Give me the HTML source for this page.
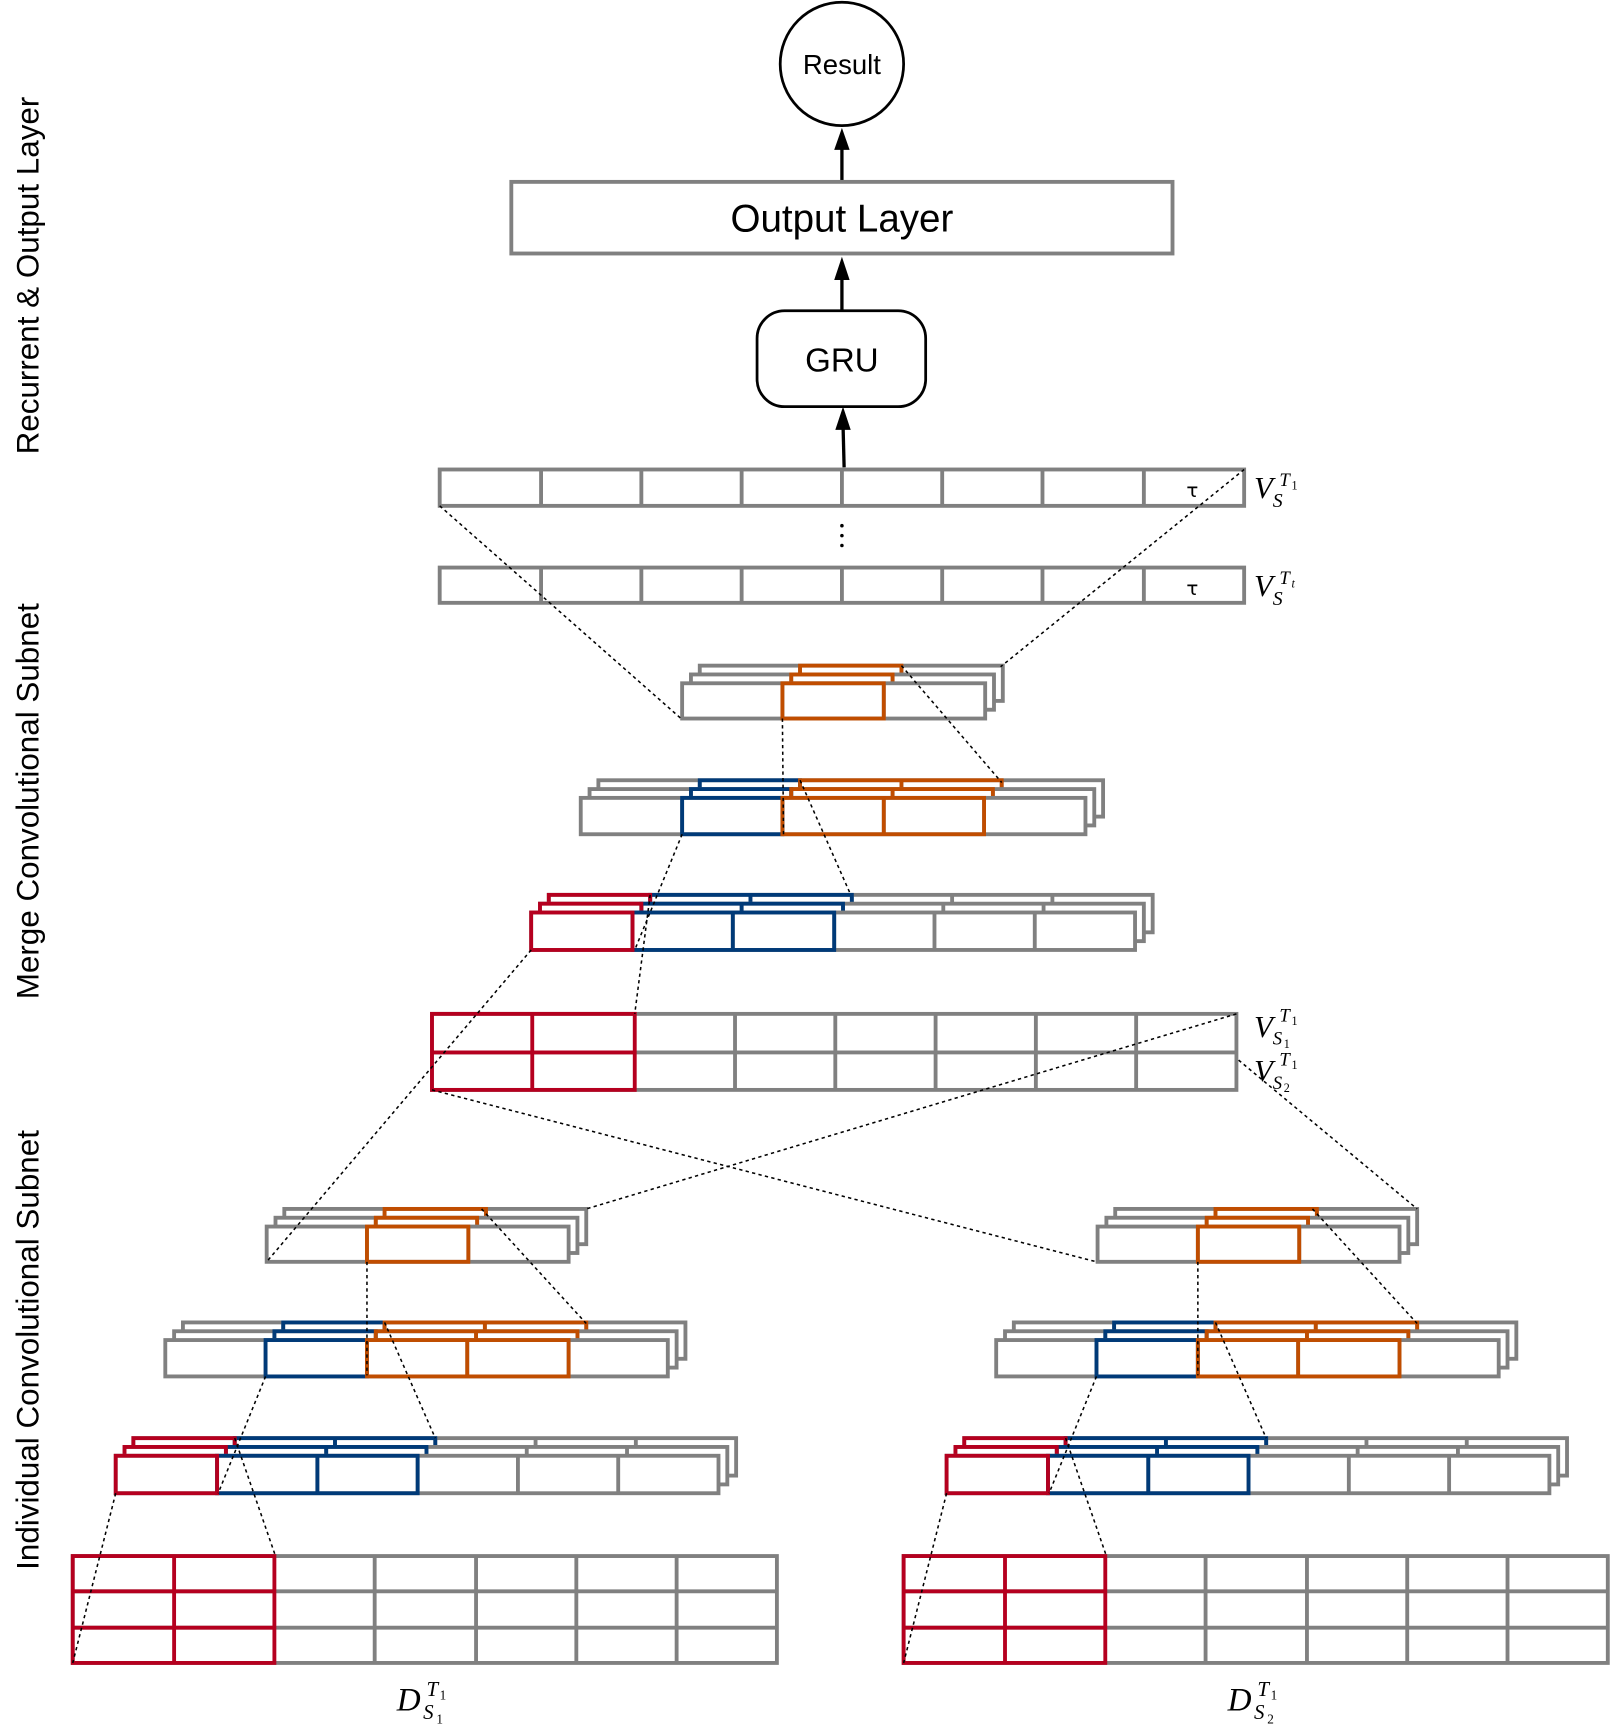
<!DOCTYPE html>
<html><head><meta charset="utf-8"><style>html,body{margin:0;padding:0;background:#fff}svg{display:block}</style></head>
<body>
<svg width="1610" height="1728" viewBox="0 0 1461 1568" xmlns="http://www.w3.org/2000/svg" font-family="Liberation Sans, sans-serif">
<defs>
<g id="m3"><rect x="619" y="620" width="275" height="32" fill="#fff" stroke="#808080" stroke-width="3.5"/><line x1="710" y1="620" x2="710" y2="652" stroke="#808080" stroke-width="3.5"/><line x1="802" y1="620" x2="802" y2="652" stroke="#808080" stroke-width="3.5"/><rect x="710" y="620" width="92" height="32" fill="none" stroke="#c04d00" stroke-width="3.5"/></g>
<g id="m2"><rect x="527" y="724" width="458" height="33" fill="#fff" stroke="#808080" stroke-width="3.5"/><g stroke="#808080" stroke-width="3.5"><line x1="619" y1="724" x2="619" y2="757"/><line x1="710" y1="724" x2="710" y2="757"/><line x1="802" y1="724" x2="802" y2="757"/><line x1="893" y1="724" x2="893" y2="757"/></g><rect x="619" y="724" width="91" height="33" fill="none" stroke="#003a78" stroke-width="3.5"/><rect x="710" y="724" width="183" height="33" fill="none" stroke="#c04d00" stroke-width="3.5"/><line x1="802" y1="724" x2="802" y2="757" stroke="#c04d00" stroke-width="3.5"/></g>
<g id="m1"><rect x="482" y="828" width="548" height="34" fill="#fff" stroke="#808080" stroke-width="3.5"/><g stroke="#808080" stroke-width="3.5"><line x1="574" y1="828" x2="574" y2="862"/><line x1="665" y1="828" x2="665" y2="862"/><line x1="757" y1="828" x2="757" y2="862"/><line x1="848" y1="828" x2="848" y2="862"/><line x1="939" y1="828" x2="939" y2="862"/></g><rect x="574" y="828" width="183" height="34" fill="none" stroke="#003a78" stroke-width="3.5"/><line x1="665" y1="828" x2="665" y2="862" stroke="#003a78" stroke-width="3.5"/><rect x="482" y="828" width="92" height="34" fill="none" stroke="#b5001f" stroke-width="3.5"/></g>
<g id="i3"><rect x="242" y="1113" width="274" height="32" fill="#fff" stroke="#808080" stroke-width="3.5"/><g stroke="#808080" stroke-width="3.5"><line x1="333" y1="1113" x2="333" y2="1145"/><line x1="425" y1="1113" x2="425" y2="1145"/></g><rect x="333" y="1113" width="92" height="32" fill="none" stroke="#c04d00" stroke-width="3.5"/></g>
<g id="i2"><rect x="150" y="1216" width="456" height="33" fill="#fff" stroke="#808080" stroke-width="3.5"/><g stroke="#808080" stroke-width="3.5"><line x1="241" y1="1216" x2="241" y2="1249"/><line x1="333" y1="1216" x2="333" y2="1249"/><line x1="424" y1="1216" x2="424" y2="1249"/><line x1="516" y1="1216" x2="516" y2="1249"/></g><rect x="241" y="1216" width="92" height="33" fill="none" stroke="#003a78" stroke-width="3.5"/><rect x="333" y="1216" width="183" height="33" fill="none" stroke="#c04d00" stroke-width="3.5"/><line x1="424" y1="1216" x2="424" y2="1249" stroke="#c04d00" stroke-width="3.5"/></g>
<g id="i1"><rect x="105" y="1321" width="547" height="34" fill="#fff" stroke="#808080" stroke-width="3.5"/><g stroke="#808080" stroke-width="3.5"><line x1="197" y1="1321" x2="197" y2="1355"/><line x1="288" y1="1321" x2="288" y2="1355"/><line x1="379" y1="1321" x2="379" y2="1355"/><line x1="470" y1="1321" x2="470" y2="1355"/><line x1="561" y1="1321" x2="561" y2="1355"/></g><rect x="197" y="1321" width="182" height="34" fill="none" stroke="#003a78" stroke-width="3.5"/><line x1="288" y1="1321" x2="288" y2="1355" stroke="#003a78" stroke-width="3.5"/><rect x="105" y="1321" width="92" height="34" fill="none" stroke="#b5001f" stroke-width="3.5"/></g>
<g id="sub">
<use href="#i3" transform="translate(16,-16)"/><use href="#i3" transform="translate(8,-8)"/><use href="#i3"/>
<use href="#i2" transform="translate(16,-16)"/><use href="#i2" transform="translate(8,-8)"/><use href="#i2"/>
<use href="#i1" transform="translate(16,-16)"/><use href="#i1" transform="translate(8,-8)"/><use href="#i1"/>
<g stroke="#808080" stroke-width="3.5" fill="none">
<rect x="66" y="1412" width="639" height="97"/>
<line x1="66" y1="1444" x2="705" y2="1444"/><line x1="66" y1="1477" x2="705" y2="1477"/>
<line x1="340" y1="1412" x2="340" y2="1509"/><line x1="432" y1="1412" x2="432" y2="1509"/><line x1="523" y1="1412" x2="523" y2="1509"/><line x1="614" y1="1412" x2="614" y2="1509"/>
</g>
<g stroke="#b5001f" stroke-width="3.5" fill="none">
<rect x="66" y="1412" width="183" height="97"/><line x1="158" y1="1412" x2="158" y2="1509"/><line x1="66" y1="1444" x2="249" y2="1444"/><line x1="66" y1="1477" x2="249" y2="1477"/>
</g>
<g stroke="#000" stroke-width="1.4" stroke-dasharray="3,3" fill="none">
<line x1="333" y1="1145" x2="333" y2="1248"/><line x1="437" y1="1097" x2="532" y2="1201"/>
<line x1="241" y1="1249" x2="198" y2="1355"/><line x1="349" y1="1200" x2="395" y2="1305"/>
<line x1="105" y1="1355" x2="66" y2="1509"/><line x1="213" y1="1305" x2="250" y2="1412"/>
</g>
</g>
</defs>

<g font-size="28.5" fill="#000" text-anchor="middle">
<text transform="translate(35,250) rotate(-90)">Recurrent &amp; Output Layer</text>
<text transform="translate(35,727) rotate(-90)">Merge Convolutional Subnet</text>
<text transform="translate(35,1225) rotate(-90)">Individual Convolutional Subnet</text>
</g>

<circle cx="764" cy="58" r="56" fill="#fff" stroke="#000" stroke-width="2.5"/>
<text x="764" y="67" font-size="25" text-anchor="middle">Result</text>
<line x1="764" y1="165" x2="764" y2="130" stroke="#000" stroke-width="3"/>
<path d="M764,116 L757,136 L771,136 Z" fill="#000"/>
<rect x="464" y="165" width="600" height="65" fill="#fff" stroke="#808080" stroke-width="3.5"/>
<text x="764" y="210" font-size="35" text-anchor="middle">Output Layer</text>
<line x1="764" y1="282" x2="764" y2="248" stroke="#000" stroke-width="3"/>
<path d="M764,233 L757,254 L771,254 Z" fill="#000"/>
<rect x="687" y="282" width="153" height="87" rx="25" fill="#fff" stroke="#000" stroke-width="2.5"/>
<text x="764" y="337" font-size="30" text-anchor="middle">GRU</text>
<line x1="766" y1="424" x2="765" y2="385" stroke="#000" stroke-width="3"/>
<path d="M765,369 L758,390 L772,390 Z" fill="#000"/>

<g stroke="#808080" stroke-width="3.5" fill="none">
<rect x="399" y="426" width="730" height="33"/>
<line x1="491" y1="426" x2="491" y2="459"/><line x1="582" y1="426" x2="582" y2="459"/><line x1="673" y1="426" x2="673" y2="459"/><line x1="764" y1="426" x2="764" y2="459"/><line x1="855" y1="426" x2="855" y2="459"/><line x1="946" y1="426" x2="946" y2="459"/><line x1="1038" y1="426" x2="1038" y2="459"/>
<rect x="399" y="515" width="730" height="32"/>
<line x1="491" y1="515" x2="491" y2="547"/><line x1="582" y1="515" x2="582" y2="547"/><line x1="673" y1="515" x2="673" y2="547"/><line x1="764" y1="515" x2="764" y2="547"/><line x1="855" y1="515" x2="855" y2="547"/><line x1="946" y1="515" x2="946" y2="547"/><line x1="1038" y1="515" x2="1038" y2="547"/>
</g>
<text x="1082" y="451" font-size="18" text-anchor="middle" font-family="DejaVu Sans, sans-serif">τ</text>
<text x="1082" y="540" font-size="18" text-anchor="middle" font-family="DejaVu Sans, sans-serif">τ</text>
<g fill="#000"><circle cx="764" cy="477" r="1.6"/><circle cx="764" cy="486" r="1.6"/><circle cx="764" cy="495" r="1.6"/></g>

<g font-family="Liberation Serif, serif" font-style="italic" fill="#000">
<text x="1138" y="452" font-size="28">V</text><text x="1155" y="460" font-size="18">S</text><text x="1161" y="441" font-size="17">T</text><text x="1172" y="444" font-size="11" font-style="normal">1</text>
<text x="1138" y="541" font-size="28">V</text><text x="1155" y="549" font-size="18">S</text><text x="1161" y="530" font-size="17">T</text><text x="1172" y="533" font-size="11">t</text>
<text x="1138" y="941" font-size="28">V</text><text x="1155" y="948" font-size="17">S</text><text x="1165" y="951" font-size="11" font-style="normal">1</text><text x="1161" y="927" font-size="17">T</text><text x="1172" y="930" font-size="11" font-style="normal">1</text>
<text x="1138" y="981" font-size="28">V</text><text x="1155" y="988" font-size="17">S</text><text x="1165" y="991" font-size="11" font-style="normal">2</text><text x="1161" y="967" font-size="17">T</text><text x="1172" y="970" font-size="11" font-style="normal">1</text>
<text x="360" y="1552" font-size="30">D</text><text x="384" y="1560" font-size="19">S</text><text x="396" y="1564" font-size="12" font-style="normal">1</text><text x="387" y="1539" font-size="19">T</text><text x="399" y="1542" font-size="12" font-style="normal">1</text>
<text x="1114" y="1552" font-size="30">D</text><text x="1138" y="1560" font-size="19">S</text><text x="1150" y="1564" font-size="12" font-style="normal">2</text><text x="1141" y="1539" font-size="19">T</text><text x="1153" y="1542" font-size="12" font-style="normal">1</text>
</g>

<use href="#m3" transform="translate(16,-16)"/><use href="#m3" transform="translate(8,-8)"/><use href="#m3"/>
<use href="#m2" transform="translate(16,-16)"/><use href="#m2" transform="translate(8,-8)"/><use href="#m2"/>
<use href="#m1" transform="translate(16,-16)"/><use href="#m1" transform="translate(8,-8)"/><use href="#m1"/>

<g stroke="#808080" stroke-width="3.5" fill="none">
<rect x="392" y="920" width="730" height="69"/><line x1="392" y1="955" x2="1122" y2="955"/>
<line x1="667" y1="920" x2="667" y2="989"/><line x1="758" y1="920" x2="758" y2="989"/><line x1="849" y1="920" x2="849" y2="989"/><line x1="940" y1="920" x2="940" y2="989"/><line x1="1031" y1="920" x2="1031" y2="989"/>
</g>
<g stroke="#b5001f" stroke-width="3.5" fill="none">
<rect x="392" y="920" width="184" height="69"/><line x1="483" y1="920" x2="483" y2="989"/><line x1="392" y1="955" x2="576" y2="955"/>
</g>

<use href="#sub"/>
<use href="#sub" transform="translate(754,0)"/>

<g stroke="#000" stroke-width="1.4" stroke-dasharray="3,3" fill="none">
<line x1="399" y1="459" x2="618" y2="652"/><line x1="1129" y1="426" x2="908" y2="605"/>
<line x1="710" y1="652" x2="711" y2="757"/><line x1="818" y1="604" x2="909" y2="710"/>
<line x1="619" y1="757" x2="576" y2="862"/><line x1="726" y1="708" x2="772" y2="812"/>
<line x1="482" y1="862" x2="242" y2="1145"/><line x1="590" y1="812" x2="576" y2="920"/>
<line x1="1122" y1="920" x2="532" y2="1097"/><line x1="392" y1="989" x2="995" y2="1145"/>
<line x1="1124" y1="962" x2="1286" y2="1097"/>
</g>
</svg>
</body></html>
